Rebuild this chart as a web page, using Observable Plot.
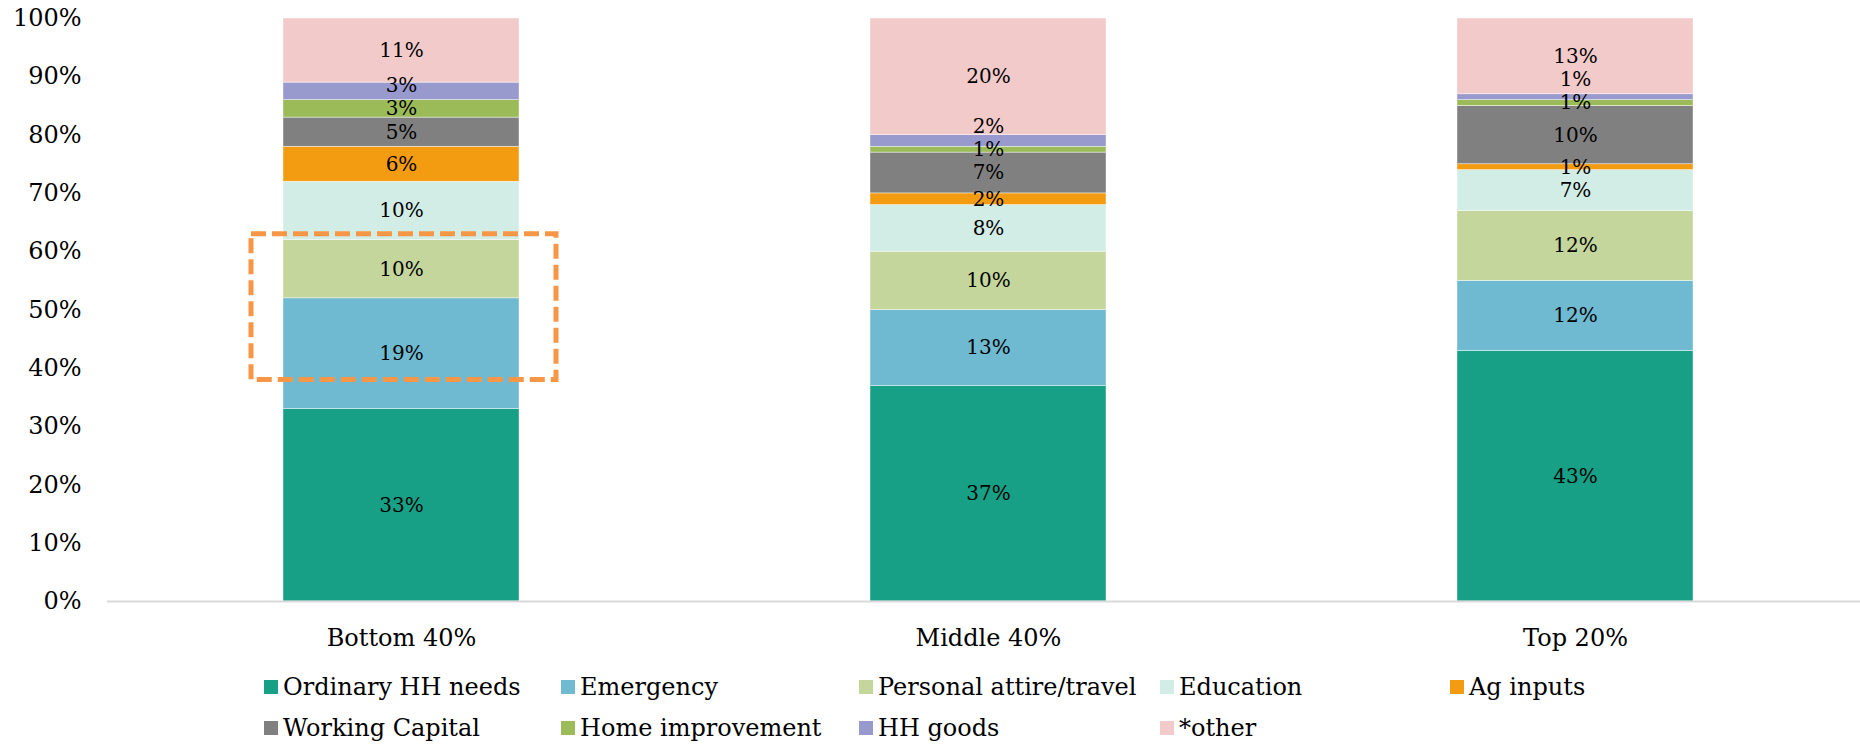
<!DOCTYPE html>
<html>
<head>
<meta charset="utf-8">
<script src="https://cdn.jsdelivr.net/npm/d3@7"></script>
<script src="https://cdn.jsdelivr.net/npm/@observablehq/plot@0.6"></script>
<style>
  body { margin: 0; background: #fff; font-family: "DejaVu Serif", serif; color: #000; }
  #legend { display: grid; grid-template-columns: 297px 298px 301px 290px 300px; margin-left: 264px; }
  .item { display: flex; align-items: center; height: 41px; font-size: 24px; white-space: nowrap; }
  .sw { width: 14px; height: 14px; margin-right: 5px; flex: none; }
</style>
</head>
<body>
<div id="chart"></div>
<div id="legend"></div>
<script>
const categories = ["Bottom 40%", "Middle 40%", "Top 20%"];
const series = ["Ordinary HH needs", "Emergency", "Personal attire/travel", "Education", "Ag inputs",
                "Working Capital", "Home improvement", "HH goods", "*other"];
const colors = ["#17a085", "#6fbad0", "#c4d69c", "#d2ece6", "#f39c12", "#808080", "#9bbb59", "#9899cc", "#f2caca"];
const bottom40 = [33, 19, 10, 10, 6, 5, 3, 3, 11];
const middle40 = [37, 13, 10, 8, 2, 7, 1, 2, 20];
const top20 = [43, 12, 12, 7, 1, 10, 1, 1, 13];
const yTicks = [0, 10, 20, 30, 40, 50, 60, 70, 80, 90, 100];
const highlight = [{category: "Bottom 40%", from: 38, to: 63}];

const valuesByCategory = [bottom40, middle40, top20];
const rows = [];
const labels = [];
const minGap = 4;
categories.forEach((c, ci) => {
  let cum = 0, prevLabel = -Infinity;
  series.forEach((s, si) => {
    const v = valuesByCategory[ci][si];
    rows.push({category: c, series: s, value: v});
    const center = cum + v / 2;
    const ly = Math.max(center, prevLabel + minGap);
    prevLabel = ly;
    labels.push({category: c, series: s, y: ly, text: v + "%"});
    cum += v;
  });
});

const chart = Plot.plot({
  width: 1860,
  height: 666,
  marginTop: 18,
  marginBottom: 65,
  marginLeft: 107,
  marginRight: 0,
  style: {fontFamily: "DejaVu Serif", fontSize: "24px", background: "#fff", color: "#000"},
  x: {domain: categories, range: [107, 1868], paddingInner: 0.598, paddingOuter: 0.299, label: null},
  y: {domain: [0, 100], label: null},
  color: {domain: series, range: colors},
  marks: [
    Plot.barY(rows, {x: "category", y: "value", fill: "series", order: series, stroke: "#fff", strokeWidth: 0.6, strokeOpacity: 0.7}),
    Plot.ruleY([0], {stroke: "#d9d9d9", strokeWidth: 2}),
    Plot.axisY({ticks: yTicks, tickFormat: d => d + "%", tickSize: 0, tickPadding: 26, fontSize: 24, label: null}),
    Plot.axisX({tickSize: 0, tickPadding: 27, fontSize: 24, label: null}),
    Plot.text(labels, {x: "category", y: "y", text: "text", fontSize: 20, fill: "#000"}),
    Plot.barY(highlight, {x: "category", y1: "from", y2: "to", fill: "none", stroke: "#f79646",
      strokeWidth: 5, strokeDasharray: "15,6", insetLeft: -32, insetRight: -37})
  ]
});
document.getElementById("chart").appendChild(chart);

const legend = document.getElementById("legend");
series.forEach((name, i) => {
  const item = document.createElement("div");
  item.className = "item";
  const sw = document.createElement("span");
  sw.className = "sw";
  sw.style.background = colors[i];
  const t = document.createElement("span");
  t.textContent = name;
  item.appendChild(sw);
  item.appendChild(t);
  legend.appendChild(item);
});
</script>
</body>
</html>
